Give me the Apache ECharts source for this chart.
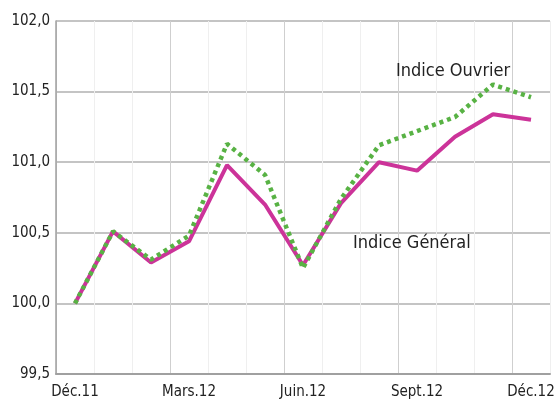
<!DOCTYPE html>
<html><head><meta charset="utf-8">
<script src="https://cdn.jsdelivr.net/npm/echarts@6/dist/echarts.min.js"></script>
<style>html,body{margin:0;padding:0;background:#fff}#c{width:560px;height:401px}</style>
</head><body><div id="c"></div>
<script>
const categories = ['Déc.11','Janv.12','Févr.12','Mars.12','Avr.12','Mai.12','Juin.12','Juil.12','Août.12','Sept.12','Oct.12','Nov.12','Déc.12'];
const indiceGeneral = [100.00,100.51,100.29,100.44,100.98,100.70,100.27,100.71,101.00,100.94,101.18,101.34,101.30];
const indiceOuvrier = [100.00,100.51,100.31,100.48,101.13,100.91,100.25,100.74,101.12,101.22,101.32,101.55,101.46];
const yTicks = [99.5,100.0,100.5,101.0,101.5,102.0];
const labelGeneral = 'Indice Général';
const labelOuvrier = 'Indice Ouvrier';

const FONT = '"DejaVu Sans Condensed", "DejaVu Sans", sans-serif';
const chart = echarts.init(document.getElementById('c'), null, {renderer:'canvas'});
chart.setOption({
  animation:false,
  grid:{left:56,right:10,top:21,bottom:27,containLabel:false},
  xAxis:{
    type:'category', data:categories, boundaryGap:true,
    axisLine:{lineStyle:{color:'#a0a0a0',width:2}},
    axisTick:{show:false},
    axisLabel:{interval:2,color:'#222',fontFamily:FONT,fontSize:15,margin:11},
    splitLine:{show:true,interval:0,lineStyle:{color:['#cfcfcf','#efefef','#efefef'],width:1}}
  },
  yAxis:{
    type:'value', min:yTicks[0], max:yTicks[yTicks.length-1], interval:0.5,
    axisLine:{show:true,lineStyle:{color:'#a0a0a0',width:1.5}},
    axisTick:{show:false},
    axisLabel:{color:'#222',fontFamily:FONT,fontSize:15,margin:6,
      formatter:v=>v.toFixed(1).replace('.',',')},
    splitLine:{lineStyle:{color:'#b0b0b0',width:1.5}}
  },
  series:[
    {name:labelOuvrier,type:'line',data:indiceOuvrier,symbol:'none',z:3,
     lineStyle:{color:'#58b244',width:4.5,type:[4,4]}},
    {name:labelGeneral,type:'line',data:indiceGeneral,symbol:'none',z:2,
     lineStyle:{color:'#cc3399',width:4}}
  ],
  graphic:[
    {type:'text',z:100,left:396,top:62,style:{text:labelOuvrier,fill:'#222',font:'18px '+FONT}},
    {type:'text',z:100,left:353,top:234,style:{text:labelGeneral,fill:'#222',font:'18px '+FONT}}
  ]
});
</script></body></html>
